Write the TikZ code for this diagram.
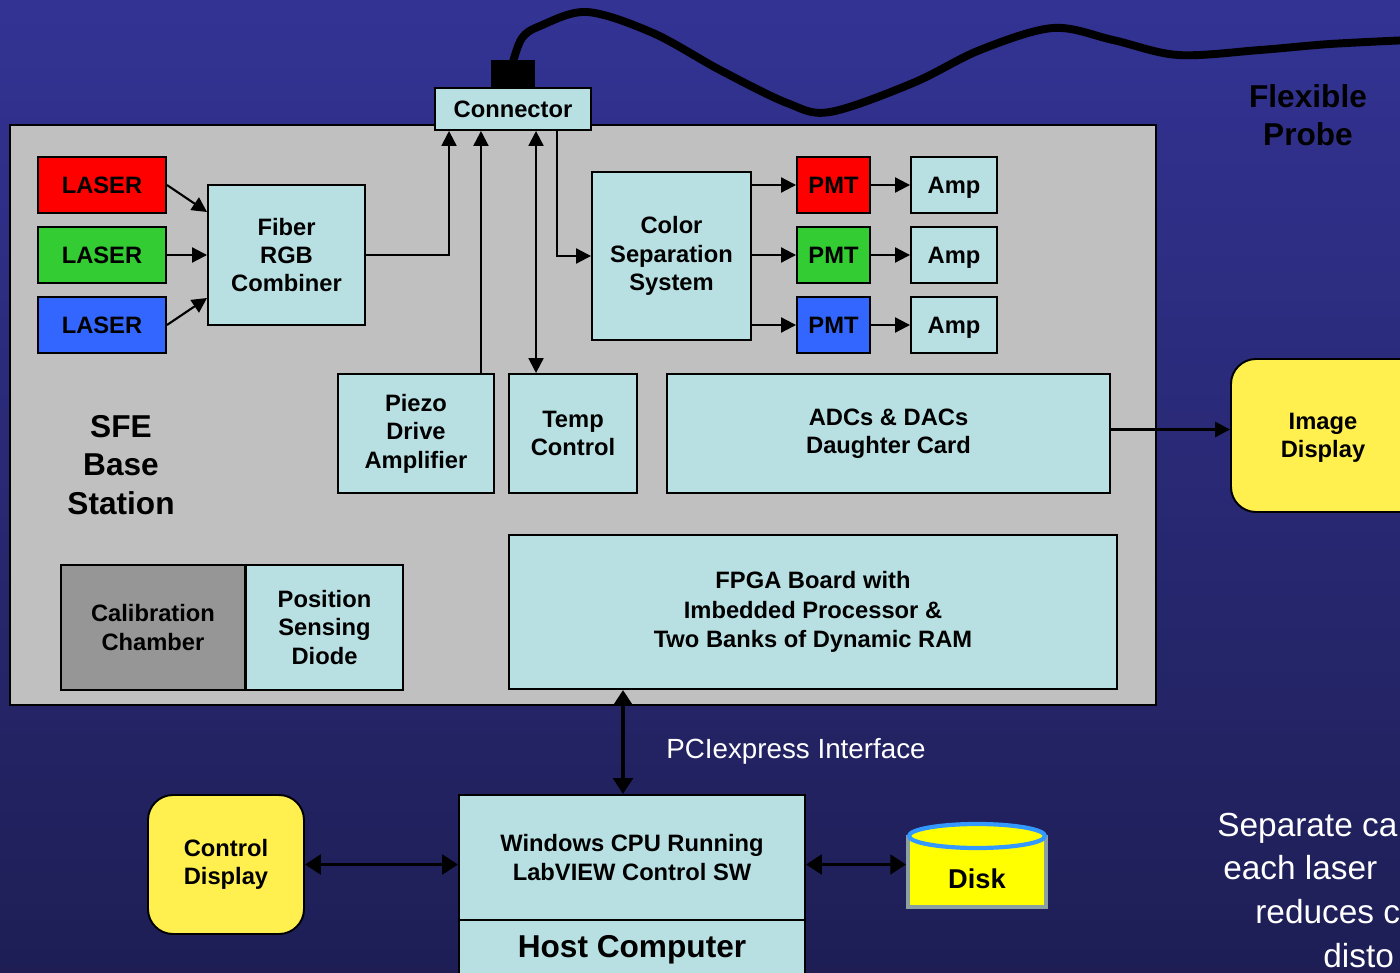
\documentclass[tikz,border=0pt]{standalone}
\usepackage{fontspec}
\setmainfont{Liberation Sans}
\usetikzlibrary{arrows.meta,calc}
\definecolor{bgtop}{RGB}{51,51,148}
\definecolor{bgbot}{RGB}{30,30,85}
\definecolor{boxc}{RGB}{184,224,227}
\definecolor{basec}{RGB}{192,192,192}
\definecolor{calgray}{RGB}{150,150,150}
\definecolor{lred}{RGB}{255,0,0}
\definecolor{lgreen}{RGB}{51,204,51}
\definecolor{lblue}{RGB}{51,102,255}
\definecolor{ylw}{RGB}{255,240,80}
\definecolor{disky}{RGB}{255,255,0}
\definecolor{diskrim}{RGB}{51,153,255}
\definecolor{diskside}{RGB}{140,160,160}
\newcommand\bx[7]{\node[#2, minimum width={(#5-#3)*0.02cm}, minimum height={(#6-#4)*0.02cm}] (#1) at ({(#3+#5)/2},{(#4+#6)/2}) {#7};}
\tikzset{
  blk/.style={draw=black, line width=1.1pt, fill=boxc, align=center, inner sep=1pt,
    font=\fontsize{13.5}{16.2}\selectfont\bfseries},
  rnd/.style={blk, fill=ylw, rounded corners=0.5cm},
  big/.style={align=center, font=\fontsize{18}{21.8}\selectfont\bfseries},
  tip/.style={Triangle[length=8.5pt,width=8.5pt]},
  arr/.style={line width=1.2pt, -{Triangle[length=8.5pt,width=8.5pt]}},
  darr/.style={line width=1.2pt, {Triangle[length=8.5pt,width=8.5pt]}-{Triangle[length=8.5pt,width=8.5pt]}},
  barr/.style={line width=2.2pt, {Triangle[length=9pt,width=11pt]}-{Triangle[length=9pt,width=11pt]}},
  cable/.style={line width=4.5pt, line cap=round, line join=round},
  septxt/.style={anchor=base west, inner sep=0pt, text=white, font=\fontsize{19}{24.4}\selectfont}
}
\begin{document}
\begin{tikzpicture}[x=0.02cm, y=-0.02cm]
\useasboundingbox (0,0) rectangle (1400,973);
\clip (0,0) rectangle (1400,973);
\shade[top color=bgtop, bottom color=bgbot] (0,0) rectangle (1400,973);

% base station
\bx{base}{draw=black, line width=1.1pt, fill=basec}{10}{125}{1156}{705}{}

% cable
\draw[cable] plot[smooth, tension=0.55] coordinates {(513,62) (522,38) (540,26) (587,12) (653,33) (720,70) (787,103) (830,112) (913,83) (980,50) (1053,28) (1113,40) (1178,55) (1260,50) (1330,44) (1410,40)};

% connector and plug
\bx{plug}{fill=black, inner sep=0pt}{491}{60}{535}{88}{}
\bx{conn}{blk}{435}{88}{591}{130}{Connector}

% lasers and combiner
\bx{laserR}{blk, fill=lred, text depth=0pt}{38}{157}{166}{213}{LASER}
\bx{laserG}{blk, fill=lgreen, text depth=0pt}{38}{227}{166}{283}{LASER}
\bx{laserB}{blk, fill=lblue, text depth=0pt}{38}{297}{166}{353}{LASER}
\bx{fiber}{blk}{208}{185}{365}{325}{Fiber\\RGB\\Combiner}

% color separation, PMTs, amps
\bx{colsep}{blk}{592}{172}{751}{340}{Color\\Separation\\System}
\bx{pmtR}{blk, fill=lred, text depth=0pt}{797}{157}{870}{213}{PMT}
\bx{pmtG}{blk, fill=lgreen, text depth=0pt}{797}{227}{870}{283}{PMT}
\bx{pmtB}{blk, fill=lblue, text depth=0pt}{797}{297}{870}{353}{PMT}
\bx{ampR}{blk, text depth=0pt}{911}{157}{997}{213}{Amp}
\bx{ampG}{blk, text depth=0pt}{911}{227}{997}{283}{Amp}
\bx{ampB}{blk, text depth=0pt}{911}{297}{997}{353}{Amp}

% middle row
\bx{piezo}{blk}{338}{374}{494}{493}{Piezo\\Drive\\Amplifier}
\bx{temp}{blk}{509}{374}{637}{493}{Temp\\Control}
\bx{adc}{blk}{667}{374}{1110}{493}{ADCs \& DACs\\Daughter Card}

% bottom row inside base
\bx{calch}{blk, fill=calgray}{61}{565}{245}{690}{Calibration\\Chamber}
\bx{psd}{blk}{246}{565}{403}{690}{Position\\Sensing\\Diode}
\bx{fpga}{blk, font=\fontsize{13.5}{16.6}\selectfont\bfseries}{509}{535}{1117}{689}{FPGA Board with\\Imbedded Processor \&\\Two Banks of Dynamic RAM}

\node[big] (sfe) at (121,465) {SFE\\Base\\Station};
\node[big] (flex) at (1308,115) {Flexible\\Probe};

% displays
\bx{img}{rnd}{1231}{359}{1440}{512}{}
\node[font=\fontsize{13.5}{16.2}\selectfont\bfseries, align=center] (imgtxt) at (1323,438) {Image\\Display};
\bx{ctrl}{rnd}{148}{795}{304}{934}{Control\\Display}

% host computer
\bx{host}{blk}{459}{795}{805}{920}{Windows CPU Running\\LabVIEW Control SW}
\bx{hostlbl}{blk}{459}{920}{805}{990}{}
\node[big] (hosttxt) at (632,950) {Host Computer};

% disk
\bx{disk}{draw=diskside, line width=2.2pt, fill=disky}{908}{837}{1046}{907}{}
\draw[draw=diskrim, line width=2.4pt, fill=disky] (977,836) ellipse [x radius=68, y radius=12];
\node[font=\fontsize{15.5}{18}\selectfont\bfseries] (disktxt) at (977,879) {Disk};

% PCIexpress label
\node[text=white, font=\fontsize{15.8}{19}\selectfont] (pci) at (796,751) {PCIexpress Interface};

% separate calibration text (cut off by the edge)
\node[septxt] (s1) at (1217,836) {Separate ca};
\node[septxt] (s2) at (1223,879) {each laser};
\node[septxt] (s3) at (1255,923) {reduces c};
\node[septxt] (s4) at (1323,967) {disto};

% connectors
\draw[arr] (laserR.east) -- ([yshift=0.86cm]fiber.west);
\draw[arr] (laserG.east) -- (fiber.west);
\draw[arr] (laserB.east) -- ([yshift=-0.86cm]fiber.west);
\draw[arr] (fiber.east) -| ([xshift=0.3cm]conn.south west);
\draw[arr] ([xshift=-0.28cm]piezo.north east) -- ([xshift=-0.28cm]piezo.north east |- conn.south);
\draw[darr] ([xshift=0.56cm]temp.north west) -- ([xshift=0.56cm]temp.north west |- conn.south);
\draw[arr] ([xshift=2.46cm]conn.south west) |- (colsep.west);
\draw[arr] (colsep.east |- pmtR.west) -- (pmtR.west);
\draw[arr] (colsep.east |- pmtG.west) -- (pmtG.west);
\draw[arr] (colsep.east |- pmtB.west) -- (pmtB.west);
\draw[arr] (pmtR) -- (ampR);
\draw[arr] (pmtG) -- (ampG);
\draw[arr] (pmtB) -- (ampB);
\draw[arr, line width=1.7pt] ([yshift=0.08cm]adc.east) -- ([yshift=0.08cm]adc.east -| img.west);
\draw[barr] ([xshift=2.3cm]fpga.south west) -- ([xshift=2.3cm]fpga.south west |- host.north);
\draw[barr] (ctrl.east) -- (ctrl.east -| host.west);
\draw[barr] (ctrl.east -| host.east) -- (ctrl.east -| disk.west);
\end{tikzpicture}
\end{document}
